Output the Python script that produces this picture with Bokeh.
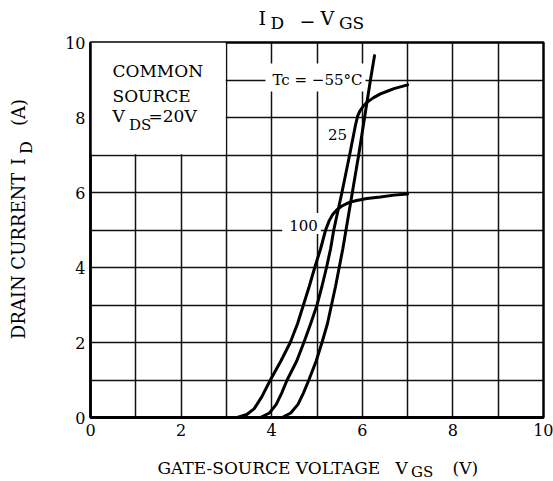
from math import pi
from bokeh.plotting import figure
from bokeh.models import Range1d, FixedTicker, Label
from bokeh.layouts import column, row
from bokeh.core.properties import value
from bokeh.embed import file_html
from bokeh.resources import INLINE

# ---- data ----
x_ticks = [0, 2, 4, 6, 8, 10]
y_ticks = [0, 2, 4, 6, 8, 10]
grid_steps = [0, 1, 2, 3, 4, 5, 6, 7, 8, 9, 10]

vgs_100 = [3.24, 3.45, 3.61, 3.78, 3.97, 4.20, 4.41, 4.57, 4.70, 4.83, 4.95, 5.08, 5.19,
           5.27, 5.35, 5.45, 5.55, 5.70, 5.85, 6.10, 6.40, 6.70, 7.00]
id_100 = [0.0, 0.08, 0.23, 0.55, 1.0, 1.5, 2.0, 2.5, 3.0, 3.5, 4.0, 4.5, 5.0,
          5.25, 5.42, 5.55, 5.64, 5.73, 5.78, 5.84, 5.88, 5.93, 5.96]

vgs_25 = [3.75, 3.95, 4.10, 4.22, 4.34, 4.55, 4.71, 4.86, 5.00, 5.11, 5.21, 5.30, 5.37,
          5.46, 5.55, 5.72, 5.85, 5.90, 5.95, 6.02, 6.11, 6.25, 6.40, 6.55, 6.70, 7.00]
id_25 = [0.0, 0.12, 0.35, 0.65, 1.0, 1.5, 2.0, 2.5, 3.0, 3.5, 4.0, 4.5, 5.0,
         5.5, 6.0, 7.0, 7.8, 8.05, 8.18, 8.30, 8.41, 8.53, 8.63, 8.70, 8.77, 8.87]

vgs_m55 = [4.23, 4.42, 4.58, 4.70, 4.82, 4.98, 5.11, 5.23, 5.32, 5.41, 5.49, 5.57, 5.64,
           5.78, 5.92, 6.05, 6.18, 6.27]
id_m55 = [0.0, 0.12, 0.35, 0.65, 1.0, 1.5, 2.0, 2.5, 3.0, 3.5, 4.0, 4.5, 5.0,
          6.0, 7.0, 8.0, 9.0, 9.65]

FONT = "DejaVu Serif"
FRAME_LEFT, FRAME_BOTTOM = 90, 417  # page pixels of the frame's lower-left corner
TOP = 33                            # height of the title strip

# ---------------- main chart ----------------
p = figure(width=513, height=412, x_range=Range1d(0, 10), y_range=Range1d(0, 10),
           output_backend="svg", toolbar_location=None, title=None,
           min_border_left=50, min_border_right=10, min_border_top=9, min_border_bottom=28)
p.background_fill_color = "white"
p.border_fill_color = "white"
p.outline_line_color = "black"
p.outline_line_width = 2.5

for g in (p.xgrid, p.ygrid):
    g.ticker = FixedTicker(ticks=grid_steps)
    g.grid_line_color = "#111111"
    g.grid_line_width = 1.5

for ax in (p.xaxis, p.yaxis):
    ax.major_tick_line_color = None
    ax.minor_tick_line_color = None
    ax.major_tick_out = 0
    ax.major_tick_in = 0
    ax.minor_tick_out = 0
    ax.minor_tick_in = 0
    ax.major_label_text_font = FONT
    ax.major_label_text_font_size = "16px"
    ax.major_label_text_color = "black"
    ax.axis_line_color = "black"
p.xaxis.ticker = FixedTicker(ticks=x_ticks)
p.yaxis.ticker = FixedTicker(ticks=y_ticks)
p.xaxis.axis_line_width = 3
p.yaxis.axis_line_width = 2.5
p.xaxis.major_label_standoff = 6
p.yaxis.major_label_standoff = 5

# white legend box in the upper-left corner (hides grid)
p.quad(left=[0], right=[2.985], bottom=[7.02], top=[10], fill_color="white", line_color=None)

for xs, ys in ((vgs_100, id_100), (vgs_25, id_25), (vgs_m55, id_m55)):
    p.line(xs, ys, line_color="black", line_width=3, line_join="round", line_cap="round")


def lab(text, px, py, size, align="left", bg=None, pad=0):
    # (px, py): page pixels of the text's left edge (or centre) and its vertical middle
    p.add_layout(Label(x=px - FRAME_LEFT, y=FRAME_BOTTOM - py, x_units="screen", y_units="screen",
                       text=text, text_font=FONT, text_font_size=f"{size}px", text_color="black",
                       text_align=align, text_baseline="middle",
                       background_fill_color=bg, padding=pad))


lab("COMMON", 112, 70, 17)
lab("SOURCE", 112, 95, 17)
lab("V", 112, 115.5, 17)
lab("DS", 128.5, 124.5, 15)
lab("=20V", 148, 115.5, 17)

lab("Tc = \u221255\u00b0C", 315, 77, 15, align="center", bg="white", pad=(7, 3, 7, 3))
lab("25", 337, 134, 15, align="center")
lab("100", 301, 223, 15, align="center", bg="white", pad=(7, 3, 7, 3))


# ---------------- text strips around the chart (page pixel coordinates) ----------------
def strip(w, x0, x1, y0, y1):
    f = figure(width=w, height=y1 - y0, x_range=Range1d(x0, x1), y_range=Range1d(y1, y0),
               output_backend="svg", toolbar_location=None, title=None,
               x_axis_location=None, y_axis_location=None, min_border=0)
    f.grid.visible = False
    f.outline_line_color = None
    f.background_fill_color = "white"
    f.border_fill_color = "white"
    return f


def txt(f, texts, xs, ys, size, angle=0.0, align="left"):
    f.text(x=xs, y=ys, text=texts, text_font=value(FONT), text_font_size=value(f"{size}px"),
           text_color="black", text_align=align, text_baseline="middle", angle=angle)


# title  I_D - V_GS
t = strip(553, 0, 553, 0, TOP)
txt(t, ["I", "V"], [258, 320], [17.5, 17.5], 19)
txt(t, ["\u2212"], [307], [20.5], 19, align="center")
txt(t, ["D", "GS"], [270, 338.5], [22.5, 22.5], 17)

# y axis label (rotated, anchored at each piece's centre)
yl = strip(40, 0, 40, TOP, 445)
txt(yl, ["DRAIN CURRENT", "I", "(A)"], [17.5, 17.5, 17.5], [267.5, 164, 110], 18,
    angle=pi / 2, align="center")
txt(yl, ["D"], [25.5], [148.5], 16, angle=pi / 2, align="center")

# x axis label
xl = strip(553, 0, 553, 445, 481)
txt(xl, ["GATE-SOURCE VOLTAGE", "V", "(V)"], [157, 395, 452], [467, 467, 467], 17)
txt(xl, ["GS"], [410.5], [471.5], 15)

layout = column(t, row(yl, p), xl)

open("out.html", "w").write(file_html(layout, INLINE))
